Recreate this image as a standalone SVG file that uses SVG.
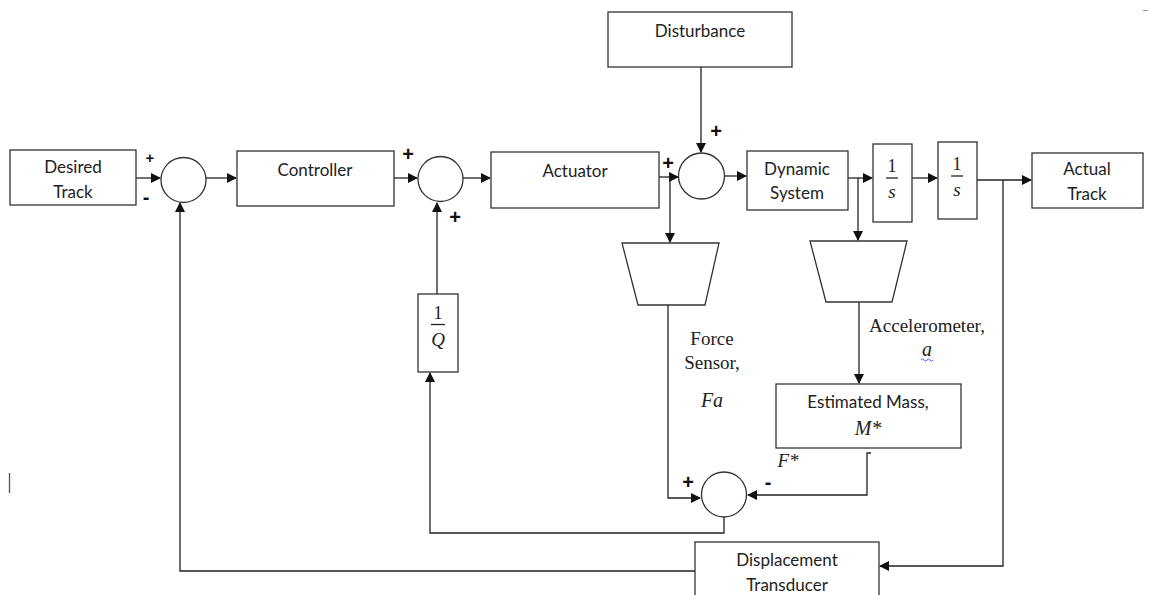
<svg xmlns="http://www.w3.org/2000/svg" width="1149" height="595" viewBox="0 0 1149 595">
<style>
.box{fill:#fff;stroke:#333;stroke-width:1.3}
.ln{fill:none;stroke:#222;stroke-width:1.3}
.t{font-family:Lato,"Open Sans",sans-serif;font-size:17px;fill:#222;text-anchor:middle}
.s{font-family:"Liberation Serif",serif;font-size:19px;fill:#222;text-anchor:middle}
.m{font-family:"Liberation Serif",serif;font-style:italic;font-size:20px;fill:#222;text-anchor:middle}
.n{font-family:"Liberation Serif",serif;font-size:18px;fill:#222;text-anchor:middle}
.sg{font-family:"Liberation Sans",sans-serif;font-weight:bold;font-size:20px;fill:#111;text-anchor:middle}
</style>
<defs>
<marker id="a" markerWidth="10" markerHeight="10" refX="9" refY="5" orient="auto" markerUnits="userSpaceOnUse">
<path d="M0,0 L10,5 L0,10 Z" fill="#111"/>
</marker>
</defs>
<rect width="1149" height="595" fill="#fff"/>

<g id="connectors">
<path class="ln" d="M134,178 H160" marker-end="url(#a)"/>
<path class="ln" d="M206,178 H236" marker-end="url(#a)"/>
<path class="ln" d="M392,178 H417" marker-end="url(#a)"/>
<path class="ln" d="M463,178 H490" marker-end="url(#a)"/>
<path class="ln" d="M437,294 V203" marker-end="url(#a)"/>
<path class="ln" d="M655,177 H678" marker-end="url(#a)"/>
<path class="ln" d="M701,67 V152" marker-end="url(#a)"/>
<path class="ln" d="M670,177 V242" marker-end="url(#a)"/>
<path class="ln" d="M724,176 H746" marker-end="url(#a)"/>
<path class="ln" d="M845,178 H872" marker-end="url(#a)"/>
<path class="ln" d="M858,178 V240" marker-end="url(#a)"/>
<path class="ln" d="M912,178 H937" marker-end="url(#a)"/>
<path class="ln" d="M977,180 H1031" marker-end="url(#a)"/>
<path class="ln" d="M1003,180 V566 H880" marker-end="url(#a)"/>
<path class="ln" d="M859,302 V383" marker-end="url(#a)"/>
<path class="ln" d="M668,305 V498 H700" marker-end="url(#a)"/>
<path class="ln" d="M871,453 H867 V495 H748" marker-end="url(#a)"/>
<path class="ln" d="M724,517 V533 H430 V373" marker-end="url(#a)"/>
<path class="ln" d="M695,571 H180 V203" marker-end="url(#a)"/>
</g>

<g id="desired-track">
<rect class="box" x="10" y="150" width="126" height="55"/>
<text class="t" x="73" y="173">Desired</text>
<text class="t" x="73" y="198">Track</text>
</g>
<g id="sum1">
<circle class="box" cx="183.5" cy="180" r="22.5"/>
<text class="sg" x="150" y="163" style="font-size:15px">+</text>
<text class="sg" x="146" y="204">-</text>
</g>
<g id="controller">
<rect class="box" x="237" y="151" width="157" height="55"/>
<text class="t" x="315" y="176">Controller</text>
</g>
<g id="sum2">
<circle class="box" cx="440.5" cy="179" r="22.5"/>
<text class="sg" x="408" y="161">+</text>
<text class="sg" x="455" y="224">+</text>
</g>
<g id="inv-q">
<rect class="box" x="418" y="294" width="40" height="78"/>
<text class="n" x="438" y="319">1</text>
<line class="ln" x1="431" y1="324.5" x2="445" y2="324.5"/>
<text class="m" x="438" y="346" style="font-size:19px">Q</text>
</g>
<g id="actuator">
<rect class="box" x="491" y="152" width="168" height="56"/>
<text class="t" x="575" y="177">Actuator</text>
</g>
<g id="disturbance">
<rect class="box" x="608" y="12" width="184" height="55"/>
<text class="t" x="700" y="37">Disturbance</text>
</g>
<g id="sum3">
<circle class="box" cx="701.5" cy="176" r="23"/>
<text class="sg" x="668" y="170">+</text>
<text class="sg" x="716" y="138">+</text>
</g>
<g id="dynamic-system">
<rect class="box" x="747" y="151" width="101" height="59"/>
<text class="t" x="797" y="175">Dynamic</text>
<text class="t" x="797" y="199">System</text>
</g>
<g id="integrator1">
<rect class="box" x="873" y="144" width="39" height="78"/>
<text class="n" x="892" y="172">1</text>
<line class="ln" x1="886" y1="178" x2="898" y2="178"/>
<text class="m" x="892" y="198" style="font-size:19px">s</text>
</g>
<g id="integrator2">
<rect class="box" x="938" y="142" width="39" height="77"/>
<text class="n" x="957" y="170">1</text>
<line class="ln" x1="951" y1="176" x2="963" y2="176"/>
<text class="m" x="957" y="196" style="font-size:19px">s</text>
</g>
<g id="actual-track">
<rect class="box" x="1032" y="153" width="111" height="55"/>
<text class="t" x="1087" y="175">Actual</text>
<text class="t" x="1087" y="200">Track</text>
</g>
<g id="force-sensor">
<polygon class="box" points="622,243 719,243 705,305 638,305"/>
<text class="s" x="712" y="345">Force</text>
<text class="s" x="712" y="369">Sensor,</text>
<text class="m" x="712" y="407">Fa</text>
</g>
<g id="accelerometer">
<polygon class="box" points="810,241 907,241 892,302 826,302"/>
<text class="s" x="927" y="332">Accelerometer,</text>
<text class="m" x="927" y="356">a</text>
<path d="M921,360 q1.5,-2 3,0 t3,0 t3,0 t3,0" fill="none" stroke="#4a5cff" stroke-width="1"/>
</g>
<g id="estimated-mass">
<rect class="box" x="776" y="384" width="185" height="64"/>
<text class="t" x="868" y="408">Estimated Mass,</text>
<text class="m" x="868" y="435">M*</text>
</g>
<g id="f-star-label">
<text class="m" x="788" y="467" style="font-size:19px">F*</text>
</g>
<g id="sum4">
<circle class="box" cx="724" cy="494.5" r="22.5"/>
<text class="sg" x="688" y="489">+</text>
<text class="sg" x="768" y="489">-</text>
</g>
<g id="displacement-transducer">
<rect class="box" x="695" y="542" width="184" height="60"/>
<text class="t" x="787" y="566">Displacement</text>
<text class="t" x="787" y="591">Transducer</text>
</g>
<g id="artifacts">
<line x1="9.5" y1="473" x2="9.5" y2="493" stroke="#555" stroke-width="1.3"/>
<line x1="1143" y1="10.5" x2="1148" y2="10.5" stroke="#999" stroke-width="1"/>
</g>
</svg>
